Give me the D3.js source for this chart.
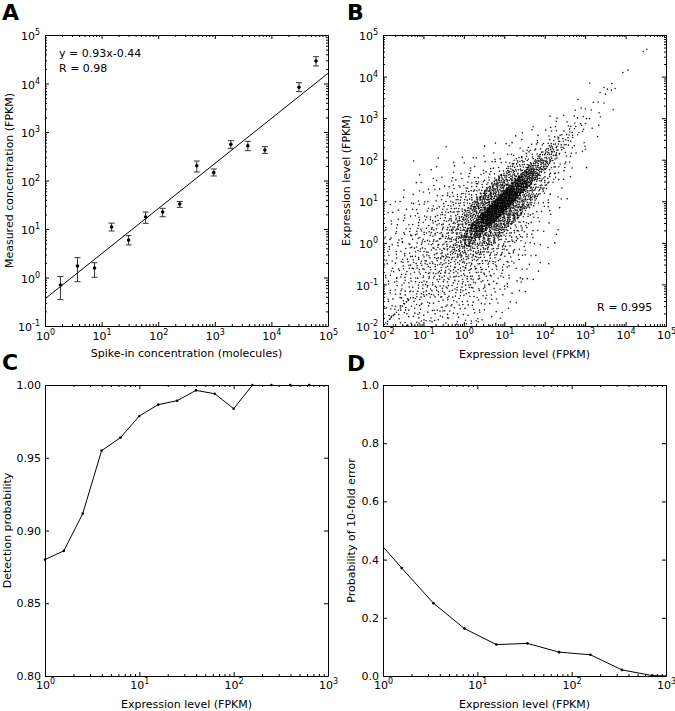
<!DOCTYPE html>
<html><head><meta charset="utf-8">
<script src="https://cdn.jsdelivr.net/npm/d3@7"></script>
<style>body{margin:0;background:#fff}</style>
</head><body><svg id="fig" width="675" height="711" xmlns="http://www.w3.org/2000/svg"></svg>
<script>
// ---------------- DATA ----------------
// Panel A: spike-in concentration vs measured FPKM
const spikeX  = [1.875, 3.75, 7.5, 15, 30, 60, 120, 240, 480, 960, 1920, 3840, 7680, 30720, 61440];
const spikeY  = [0.70, 1.73, 1.57, 11.0, 5.9, 17.7, 22.4, 32.8, 202, 145, 557, 522, 425, 8340, 29100];
const spikeLo = [0.35, 0.82, 1.01, 9.1, 4.7, 13.1, 17.9, 28, 150, 124, 460, 412, 363, 6790, 23000];
const spikeHi = [1.05, 2.57, 2.02, 13.2, 7.3, 22.4, 26.7, 37, 252, 173, 662, 643, 499, 10400, 35700];
const fitSlope = 0.93, fitIntercept = -0.44;
const fitText = ["y = 0.93x-0.44", "R = 0.98"];

// Panel B: replicate scatter, summarised as point counts per cell.
// u = mean of log10(x) and log10(y) (cell lower edge, 0.25 wide),
// d = log10(y) - log10(x) (cell centre, 0.5 wide)
const scatterU = [-2, -1.75, -1.5, -1.25, -1, -0.75, -0.5, -0.25, 0, 0.25, 0.5, 0.75, 1, 1.25, 1.5, 1.75, 2, 2.25, 2.5, 2.75, 3, 3.25];
const scatterD = [-2.5, -2, -1.5, -1, -0.5, 0, 0.5, 1, 1.5, 2, 2.5];
const scatterCounts = [
  [0, 0, 0, 0, 6, 8, 6, 0, 0, 0, 0],
  [0, 0, 0, 6, 9, 10, 9, 6, 0, 0, 0],
  [0, 0, 6, 9, 11, 12, 11, 9, 6, 0, 0],
  [0, 5, 8, 11, 13, 15, 13, 11, 8, 5, 0],
  [3, 6, 10, 14, 16, 18, 16, 14, 10, 6, 3],
  [4, 7, 11, 16, 19, 21, 19, 16, 11, 7, 4],
  [4, 7, 12, 18, 23, 28, 23, 18, 12, 7, 4],
  [4, 7, 12, 19, 30, 48, 30, 19, 12, 7, 4],
  [3, 6, 12, 21, 42, 95, 42, 21, 12, 6, 3],
  [3, 5, 11, 23, 60, 170, 60, 23, 11, 5, 3],
  [2, 4, 9, 21, 80, 250, 80, 21, 9, 4, 2],
  [1, 3, 7, 18, 85, 270, 85, 18, 7, 3, 1],
  [0, 2, 4, 12, 75, 250, 75, 12, 4, 2, 0],
  [0, 1, 3, 8, 55, 190, 55, 8, 3, 1, 0],
  [0, 0, 2, 5, 32, 120, 32, 5, 2, 0, 0],
  [0, 0, 1, 3, 18, 70, 18, 3, 1, 0, 0],
  [0, 0, 0, 2, 11, 45, 11, 2, 0, 0, 0],
  [0, 0, 0, 1, 7, 28, 7, 1, 0, 0, 0],
  [0, 0, 0, 1, 4, 16, 4, 1, 0, 0, 0],
  [0, 0, 0, 0, 3, 9, 3, 0, 0, 0, 0],
  [0, 0, 0, 0, 2, 5, 2, 0, 0, 0, 0],
  [0, 0, 0, 0, 1, 3, 1, 0, 0, 0, 0]
];
// individually read points (FPKM)
const tailX = [27300, 33700, 8570, 11590, 2950, 3570, 4470, 5530, 4570, 2340, 3160, 0.0575];
const tailY = [40100, 45600, 12560, 14260, 5470, 4980, 4710, 5180, 6820, 4150, 3780, 93];
const diagXY = [0.0108, 0.0118, 0.013, 0.0145, 0.016, 0.0178, 0.0195, 0.0215, 0.024, 0.027, 0.03, 0.034, 0.038, 0.043, 0.048];
const scatterText = "R = 0.995";

// Panel C: detection probability
const detX = [1, 1.585, 2.512, 3.981, 6.31, 10, 15.85, 25.12, 39.81, 63.1, 100, 158.5, 251.2, 398.1, 631];
const detY = [0.880, 0.886, 0.9116, 0.9549, 0.9638, 0.9787, 0.9865, 0.9892, 0.9963, 0.994, 0.9837, 1, 1, 1, 1];

// Panel D: probability of 10-fold error
const errX = [0.736, 1.58, 3.43, 7.3, 15.9, 34, 73.6, 158, 341, 724, 1585];
const errY = [0.493, 0.371, 0.250, 0.163, 0.108, 0.112, 0.082, 0.073, 0.021, 0.001, 0.0];

// tick values
const ticksA_x = [1, 10, 100, 1e3, 1e4, 1e5];
const ticksA_y = [0.1, 1, 10, 100, 1e3, 1e4, 1e5];
const ticksB = [0.01, 0.1, 1, 10, 100, 1e3, 1e4, 1e5];
const ticksCD_x = [1, 10, 100, 1000];
const ticksC_y = [0.80, 0.85, 0.90, 0.95, 1.00];
const ticksD_y = [0.0, 0.2, 0.4, 0.6, 0.8, 1.0];

// ---------------- DRAWING ----------------
const FONT = '"DejaVu Sans", "Bitstream Vera Sans", sans-serif';
const svg = d3.select('#fig');

function logMinor(lo, hi) {
  const out = [];
  for (let e = Math.floor(Math.log10(lo)); e < Math.log10(hi); e++)
    for (let m = 2; m <= 9; m++) { const v = m * Math.pow(10, e); if (v > lo && v < hi) out.push(v); }
  return out;
}
function supify(sel) {
  sel.each(function(d) {
    const e = Math.round(Math.log10(d));
    const t = d3.select(this);
    t.text(null);
    t.append('tspan').text('10');
    t.append('tspan').attr('font-size', 8).attr('dy', -5).text(e < 0 ? '-' + (-e) : String(e));
  });
}
function styleAxis(g) {
  g.selectAll('.domain').attr('stroke', '#000').attr('stroke-width', 1);
  g.selectAll('.tick line').attr('stroke', '#000');
  g.selectAll('text').attr('font-family', FONT).attr('font-size', 11).attr('fill', '#000');
}

function panel(id, x, y, o) {
  const [x0, x1] = x.range(), [y0, y1] = y.range();
  svg.append('clipPath').attr('id', 'clip' + id).append('rect')
    .attr('x', x0).attr('y', y1).attr('width', x1 - x0).attr('height', y0 - y1);
  svg.append('clipPath').attr('id', 'clipm' + id).append('rect')
    .attr('x', x0 - 3).attr('y', y1 - 3).attr('width', x1 - x0 + 6).attr('height', y0 - y1 + 6);
  const data = svg.append('g').attr('clip-path', `url(#clip${id})`);
  const marks = svg.append('g').attr('clip-path', `url(#clipm${id})`);
  const axes = svg.append('g');
  const xfmt = o.xLog ? (d => d) : d3.format(o.xFmt);
  const yfmt = o.yLog ? (d => d) : d3.format(o.yFmt);
  const gb = axes.append('g').attr('transform', `translate(0,${y0})`)
    .call(d3.axisBottom(x).tickValues(o.xt).tickSizeInner(-4).tickSizeOuter(0).tickPadding(o.xPad).tickFormat(xfmt));
  const gt = axes.append('g').attr('transform', `translate(0,${y1})`)
    .call(d3.axisTop(x).tickValues(o.xt).tickSizeInner(-4).tickSizeOuter(0).tickFormat(''));
  const gl = axes.append('g').attr('transform', `translate(${x0},0)`)
    .call(d3.axisLeft(y).tickValues(o.yt).tickSizeInner(-4).tickSizeOuter(0).tickPadding(o.yPad).tickFormat(yfmt));
  const gr = axes.append('g').attr('transform', `translate(${x1},0)`)
    .call(d3.axisRight(y).tickValues(o.yt).tickSizeInner(-4).tickSizeOuter(0).tickFormat(''));
  [gb, gt, gl, gr].forEach(styleAxis);
  if (o.xLog) supify(gb.selectAll('text'));
  if (o.yLog) { supify(gl.selectAll('text')); gl.selectAll('text').attr('dy', '0.42em'); }
  if (o.xLog) {
    const mn = logMinor(x.domain()[0], x.domain()[1]);
    [[d3.axisBottom, y0], [d3.axisTop, y1]].forEach(([f, yy]) => {
      const g = axes.append('g').attr('transform', `translate(0,${yy})`)
        .call(f(x).tickValues(mn).tickSizeInner(-2).tickSizeOuter(0).tickFormat(''));
      g.select('.domain').remove(); styleAxis(g);
    });
  }
  if (o.yLog) {
    const mn = logMinor(y.domain()[0], y.domain()[1]);
    [[d3.axisLeft, x0], [d3.axisRight, x1]].forEach(([f, xx]) => {
      const g = axes.append('g').attr('transform', `translate(${xx},0)`)
        .call(f(y).tickValues(mn).tickSizeInner(-2).tickSizeOuter(0).tickFormat(''));
      g.select('.domain').remove(); styleAxis(g);
    });
  }
  axes.append('text').attr('x', (x0 + x1) / 2).attr('y', o.xlY).attr('text-anchor', 'middle')
    .attr('font-family', FONT).attr('font-size', 11).text(o.xlabel);
  axes.append('text').attr('transform', `translate(${o.ylX},${(y0 + y1) / 2}) rotate(-90)`).attr('text-anchor', 'middle')
    .attr('font-family', FONT).attr('font-size', 11).text(o.ylabel);
  axes.append('text').attr('x', o.letterX).attr('y', o.letterY).attr('font-family', FONT)
    .attr('font-weight', 'bold').attr('font-size', 22).text(id);
  return { data, marks, axes };
}

// ---- Panel A ----
{
  const x = d3.scaleLog().domain([1, 1e5]).range([45, 328]);
  const y = d3.scaleLog().domain([0.1, 1e5]).range([326, 35]);
  const { data } = panel('A', x, y, { xLog: true, yLog: true, xt: ticksA_x, yt: ticksA_y, xPad: 6, yPad: 5,
    xlabel: 'Spike-in concentration (molecules)', ylabel: 'Measured concentration (FPKM)', xlY: 357, ylX: 13, letterX: 2, letterY: 20 });
  const fit = v => Math.pow(10, fitSlope * Math.log10(v) + fitIntercept);
  data.append('line').attr('x1', x(1)).attr('y1', y(fit(1))).attr('x2', x(1e5)).attr('y2', y(fit(1e5)))
    .attr('stroke', '#000').attr('stroke-width', 1);
  const eb = data.selectAll('g.eb').data(spikeX.map((v, i) => i)).join('g').attr('stroke', '#333').attr('stroke-width', 1);
  eb.append('line').attr('x1', i => x(spikeX[i])).attr('x2', i => x(spikeX[i])).attr('y1', i => y(spikeLo[i])).attr('y2', i => y(spikeHi[i]));
  eb.append('line').attr('x1', i => x(spikeX[i]) - 3).attr('x2', i => x(spikeX[i]) + 3).attr('y1', i => y(spikeLo[i])).attr('y2', i => y(spikeLo[i]));
  eb.append('line').attr('x1', i => x(spikeX[i]) - 3).attr('x2', i => x(spikeX[i]) + 3).attr('y1', i => y(spikeHi[i])).attr('y2', i => y(spikeHi[i]));
  data.selectAll('circle').data(spikeX.map((v, i) => i)).join('circle')
    .attr('cx', i => x(spikeX[i])).attr('cy', i => y(spikeY[i])).attr('r', 1.8).attr('fill', '#000');
  svg.append('text').attr('x', 59).attr('y', 57).attr('font-family', FONT).attr('font-size', 11).text(fitText[0]);
  svg.append('text').attr('x', 59).attr('y', 72).attr('font-family', FONT).attr('font-size', 11).text(fitText[1]);
}

// ---- Panel B ----
{
  const x = d3.scaleLog().domain([0.01, 1e5]).range([383, 666]);
  const y = d3.scaleLog().domain([0.01, 1e5]).range([326, 35]);
  const { data } = panel('B', x, y, { xLog: true, yLog: true, xt: ticksB, yt: ticksB, xPad: 5, yPad: 5,
    xlabel: 'Expression level (FPKM)', ylabel: 'Expression level (FPKM)', xlY: 357.5, ylX: 349.5, letterX: 347, letterY: 20 });
  function halton(i, b) { let f = 1, r = 0; while (i > 0) { f /= b; r += f * (i % b); i = Math.floor(i / b); } return r; }
  const pts = [];
  let idx = 1;
  scatterCounts.forEach((row, ui) => row.forEach((n, di) => {
    for (let k = 0; k < n; k++, idx++) {
      const u = scatterU[ui] + 0.25 * halton(idx, 2);
      const d = scatterD[di] - 0.25 + 0.5 * halton(idx, 3);
      const lx = u - d / 2, ly = u + d / 2;
      if (lx >= -2 && lx <= 5 && ly >= -2 && ly <= 5) pts.push([Math.pow(10, lx), Math.pow(10, ly)]);
    }
  }));
  tailX.forEach((v, i) => pts.push([v, tailY[i]]));
  diagXY.forEach(v => pts.push([v, v]));
  data.selectAll('circle').data(pts).join('circle')
    .attr('cx', d => x(d[0])).attr('cy', d => y(d[1])).attr('r', 0.8).attr('fill', '#000').attr('fill-opacity', 0.9);
  svg.append('text').attr('x', 597).attr('y', 311).attr('font-family', FONT).attr('font-size', 11).text(scatterText);
}

// ---- Panel C ----
{
  const x = d3.scaleLog().domain([1, 1000]).range([45, 328]);
  const y = d3.scaleLinear().domain([0.8, 1.0]).range([676, 385]);
  const { data, marks } = panel('C', x, y, { xLog: true, yLog: false, yFmt: '.2f', xt: ticksCD_x, yt: ticksC_y, xPad: 5, yPad: 4,
    xlabel: 'Expression level (FPKM)', ylabel: 'Detection probability', xlY: 707.5, ylX: 10.5, letterX: 2, letterY: 370 });
  const line = d3.line().x((d, i) => x(detX[i])).y((d, i) => y(detY[i]));
  data.append('path').attr('d', line(detX)).attr('fill', 'none').attr('stroke', '#000').attr('stroke-width', 1);
  marks.selectAll('circle').data(detX.map((v, i) => i)).join('circle')
    .attr('cx', i => x(detX[i])).attr('cy', i => y(detY[i])).attr('r', 1.3).attr('fill', '#000');
}

// ---- Panel D ----
{
  const x = d3.scaleLog().domain([1, 1000]).range([383, 666]);
  const y = d3.scaleLinear().domain([0, 1]).range([676, 385]);
  const { data, marks } = panel('D', x, y, { xLog: true, yLog: false, yFmt: '.1f', xt: ticksCD_x, yt: ticksD_y, xPad: 5, yPad: 4,
    xlabel: 'Expression level (FPKM)', ylabel: 'Probability of 10-fold error', xlY: 707.5, ylX: 355, letterX: 347, letterY: 371 });
  const line = d3.line().x((d, i) => x(errX[i])).y((d, i) => y(errY[i]));
  data.append('path').attr('d', line(errX)).attr('fill', 'none').attr('stroke', '#000').attr('stroke-width', 1);
  marks.selectAll('circle').data(errX.map((v, i) => i)).join('circle')
    .attr('cx', i => x(errX[i])).attr('cy', i => y(errY[i])).attr('r', 1.3).attr('fill', '#000');
}
</script>
</body></html>
